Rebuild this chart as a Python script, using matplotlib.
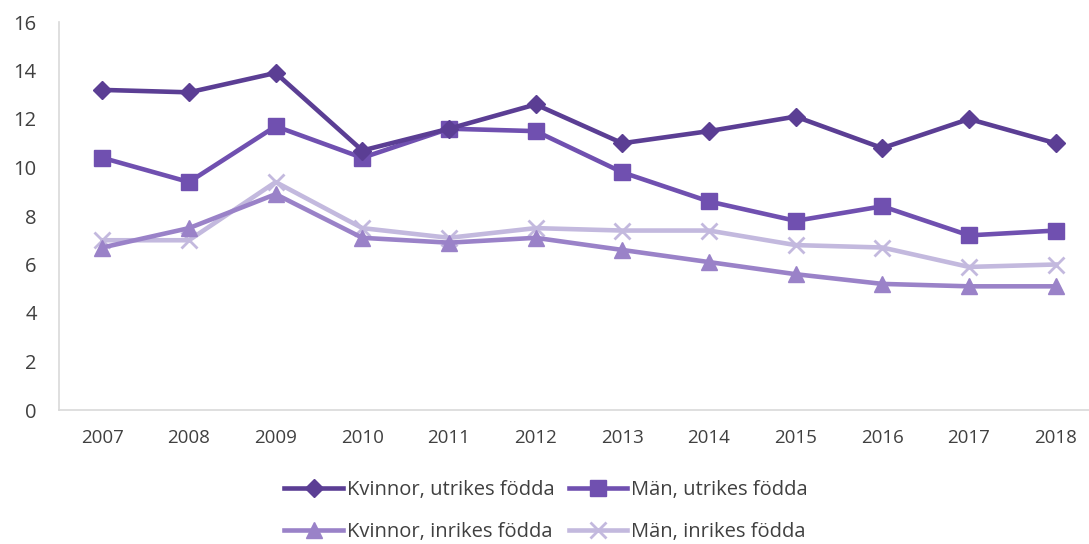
import matplotlib.pyplot as plt

# === Data ===
years = ["2007", "2008", "2009", "2010", "2011", "2012",
         "2013", "2014", "2015", "2016", "2017", "2018"]
kvinnor_utrikes = [13.2, 13.1, 13.9, 10.7, 11.6, 12.6, 11.0, 11.5, 12.1, 10.8, 12.0, 11.0]
man_utrikes = [10.4, 9.4, 11.7, 10.4, 11.6, 11.5, 9.8, 8.6, 7.8, 8.4, 7.2, 7.4]
kvinnor_inrikes = [6.7, 7.5, 8.9, 7.1, 6.9, 7.1, 6.6, 6.1, 5.6, 5.2, 5.1, 5.1]
man_inrikes = [7.0, 7.0, 9.4, 7.5, 7.1, 7.5, 7.4, 7.4, 6.8, 6.7, 5.9, 6.0]

plt.rcParams['font.family'] = ['Open Sans', 'DejaVu Sans']

fig = plt.figure(figsize=(10.89, 5.44), dpi=100)
# axes runs slightly past the right edge, as in the cropped original
ax = fig.add_axes([59 / 1089, 1 - 410 / 544, 1040 / 1089, 388 / 544])

x = range(len(years))
ax.plot(x, man_inrikes, color="#c3b9de", lw=3.3, marker="x", ms=11, mew=2,
        label="Män, inrikes födda", zorder=2)
ax.plot(x, kvinnor_inrikes, color="#9a82c8", lw=3.3, marker="^", ms=11,
        label="Kvinnor, inrikes födda", zorder=3)
ax.plot(x, man_utrikes, color="#7050b0", lw=3.3, marker="s", ms=11,
        label="Män, utrikes födda", zorder=4)
ax.plot(x, kvinnor_utrikes, color="#5b3e94", lw=3.3, marker="D", ms=9,
        label="Kvinnor, utrikes födda", zorder=5)

ax.set_xlim(-0.5, len(years) - 0.5)
ax.set_ylim(0, 16)
ax.set_yticks(range(0, 17, 2))
ax.set_xticks(list(x))
ax.set_xticklabels(years)
ax.tick_params(length=0, labelcolor="#404040")
ax.tick_params(axis="x", pad=14, labelsize=13.5)
ax.tick_params(axis="y", pad=16, labelsize=14.5)

for s in ["top", "right"]:
    ax.spines[s].set_visible(False)
for s in ["left", "bottom"]:
    ax.spines[s].set_color("#d9d9d9")
    ax.spines[s].set_linewidth(1.2)

# legend rows: utrikes on top, inrikes below (matplotlib fills by column)
h, l = ax.get_legend_handles_labels()
order = [3, 1, 2, 0]
fig.legend([h[i] for i in order], [l[i] for i in order],
           loc="center", bbox_to_anchor=(546 / 1089, 1 - 511 / 544),
           ncol=2, frameon=False, fontsize=14.5, handlelength=2.9,
           handletextpad=0.2, columnspacing=0.7, labelspacing=1.1,
           labelcolor="#404040")

plt.savefig("out.png", dpi=100)
